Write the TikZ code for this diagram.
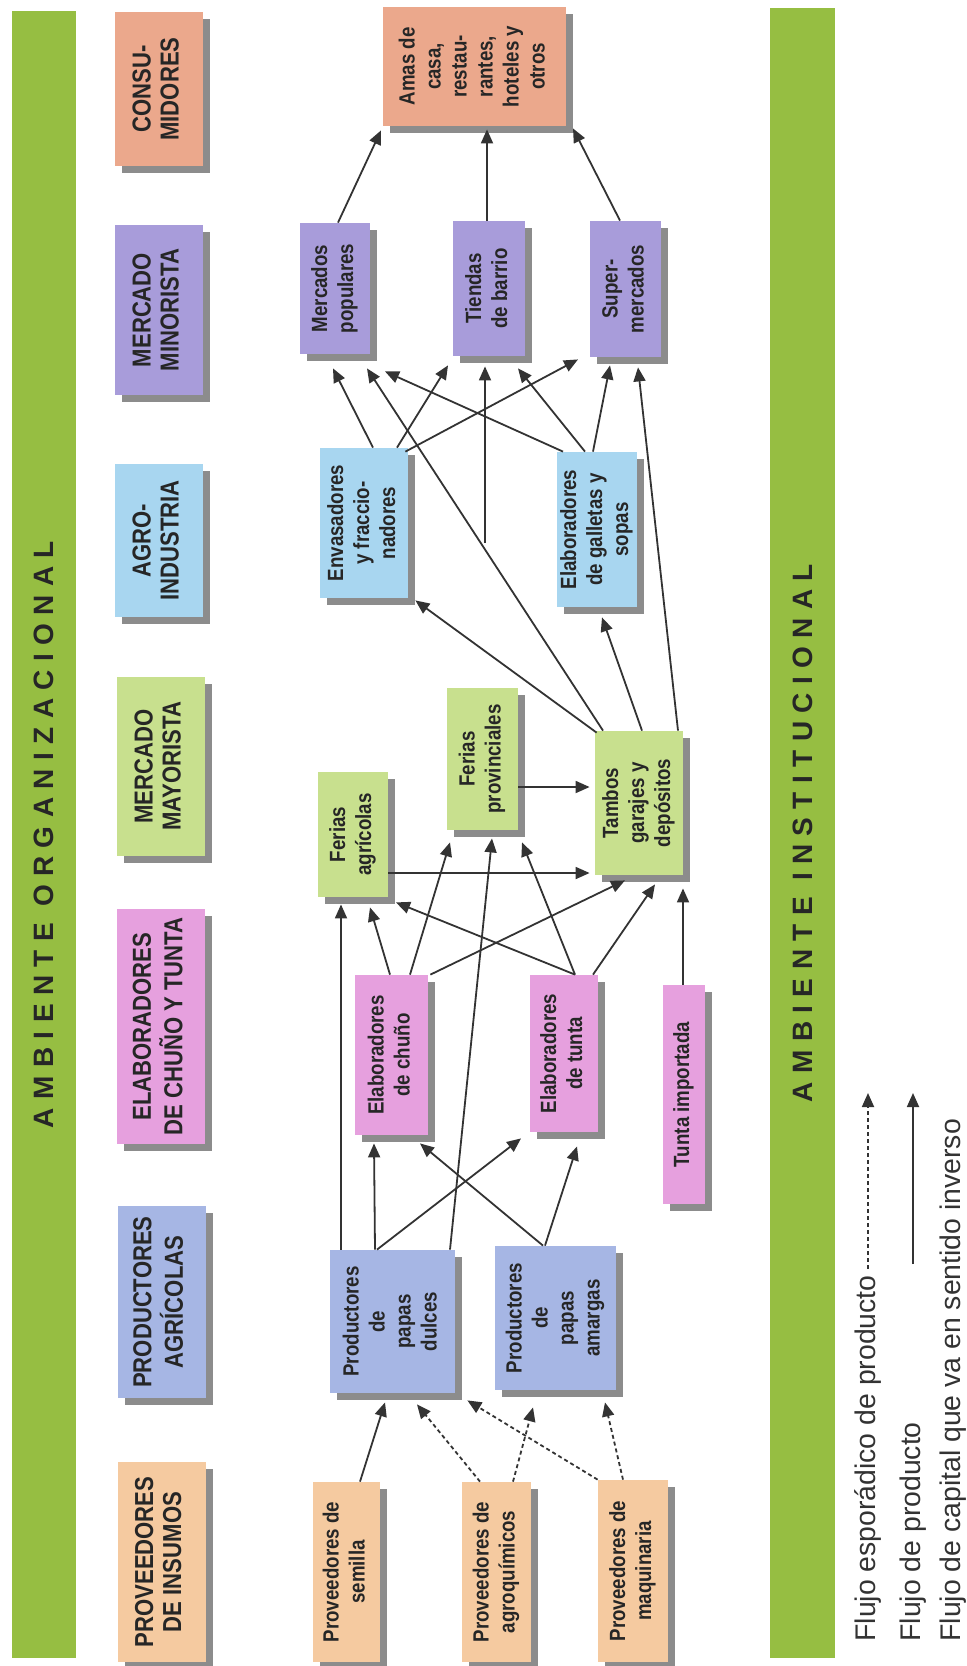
\documentclass[tikz,border=0pt]{standalone}
\usepackage{fontspec}
\setmainfont{Liberation Sans}
\newfontfamily\barfont[LetterSpace=30]{Liberation Sans}
\newfontfamily\narrowfont[FakeStretch=0.85]{Liberation Sans}
\usetikzlibrary{arrows.meta}
\usetikzlibrary{shadows}
\definecolor{barverde}{RGB}{150,190,66}
\definecolor{salmon}{RGB}{235,168,140}
\definecolor{lila}{RGB}{168,156,218}
\definecolor{celeste}{RGB}{168,214,240}
\definecolor{verdecl}{RGB}{200,224,142}
\definecolor{rosa}{RGB}{230,160,222}
\definecolor{azul}{RGB}{166,182,228}
\definecolor{durazno}{RGB}{245,202,160}
\newcommand{\vlab}[1]{\rotatebox{90}{\begin{tabular}{@{}c@{}}#1\end{tabular}}}
\tikzset{
  caja/.style={inner sep=0pt, text=black!85, drop shadow={shadow xshift=3.5pt, shadow yshift=-3.5pt, fill=black!45, opacity=1}},
  cat/.style={caja, minimum width=44pt, font=\narrowfont\fontsize{13}{14}\selectfont\bfseries},
  act/.style={caja, font=\narrowfont\fontsize{11}{13}\selectfont\bfseries},
  barra/.style={fill=barverde, inner sep=0pt, text=black!85, font=\barfont\fontsize{14}{16}\selectfont\bfseries},
  leyenda/.style={inner sep=0pt, text=black!80, font=\fontsize{14.2}{16}\selectfont},
  flujo/.style={draw=black!80, line width=0.9pt, -{Triangle[length=7pt,width=6pt]}},
  espor/.style={flujo, dash pattern=on 2pt off 1.5pt}
}
\begin{document}
\begin{tikzpicture}[x=0.5pt,y=-0.5pt]
				\fill [white] (0,0) rectangle (966,1666);
				\useasboundingbox (0,0) rectangle (966,1666);
				%
				\node (orgbar) [barra, minimum width=32pt, minimum height=823.5pt] at (44,834.5) {\rotatebox{90}{AMBIENTE ORGANIZACIONAL}};
				\node (insbar) [barra, minimum width=32.5pt, minimum height=825pt] at (802.5,833) {\rotatebox{90}{AMBIENTE INSTITUCIONAL}};
				%
				\node (cons) [cat, fill=salmon, minimum height=77pt] at (159,89) {\vlab{CONSU-\\MIDORES}};
				\node (minor) [cat, fill=lila, minimum height=85pt] at (159,310) {\vlab{MERCADO\\MINORISTA}};
				\node (agro) [cat, fill=celeste, minimum height=76.5pt] at (159,540.5) {\vlab{AGRO-\\INDUSTRIA}};
				\node (mayor) [cat, fill=verdecl, minimum height=89.5pt] at (161,766.5) {\vlab{MERCADO\\MAYORISTA}};
				\node (elab) [cat, fill=rosa, minimum height=117.5pt] at (161,1026.5) {\vlab{ELABORADORES\\DE CHUÑO Y TUNTA}};
				\node (prod) [cat, fill=azul, minimum height=96pt] at (161.5,1302) {\vlab{PRODUCTORES\\AGRÍCOLAS}};
				\node (prov) [cat, fill=durazno, minimum height=100pt] at (161.5,1562) {\vlab{PROVEEDORES\\DE INSUMOS}};
				%
				\node (amas) [act, fill=salmon, minimum width=91.5pt, minimum height=59.5pt] at (474.5,66.5) {\vlab{Amas de\\casa,\\restau-\\rantes,\\hoteles y\\otros}};
				\node (mp) [act, fill=lila, minimum width=35pt, minimum height=65.5pt] at (335,288.5) {\vlab{Mercados\\populares}};
				\node (tiendas) [act, fill=lila, minimum width=36pt, minimum height=67.5pt] at (489,288.5) {\vlab{Tiendas\\de barrio}};
				\node (super) [act, fill=lila, minimum width=35.5pt, minimum height=68pt] at (625.5,289) {\vlab{Super-\\mercados}};
				\node (env) [act, fill=celeste, minimum width=44pt, minimum height=75pt] at (364,523) {\vlab{Envasadores\\y fraccio-\\nadores}};
				\node (gall) [act, fill=celeste, minimum width=40pt, minimum height=77.5pt] at (597,529.5) {\vlab{Elaboradores\\de galletas y\\sopas}};
				\node (fagr) [act, fill=verdecl, minimum width=35pt, minimum height=62.5pt] at (353,834.5) {\vlab{Ferias\\agrícolas}};
				\node (fprov) [act, fill=verdecl, minimum width=35.5pt, minimum height=71pt] at (482.5,759) {\vlab{Ferias\\provinciales}};
				\node (tambos) [act, fill=verdecl, minimum width=44pt, minimum height=72pt] at (639,803) {\vlab{Tambos\\garajes y\\depósitos}};
				\node (chuno) [act, fill=rosa, minimum width=36.5pt, minimum height=80pt] at (391.5,1055) {\vlab{Elaboradores\\de chuño}};
				\node (tunta) [act, fill=rosa, minimum width=34pt, minimum height=78.5pt] at (564,1053.5) {\vlab{Elaboradores\\de tunta}};
				\node (timp) [act, fill=rosa, minimum width=21pt, minimum height=109.5pt] at (684,1094.5) {\vlab{Tunta importada}};
				\node (dulces) [act, fill=azul, minimum width=62.5pt, minimum height=71.5pt] at (392.5,1321.5) {\vlab{Productores\\de\\papas\\dulces}};
				\node (amargas) [act, fill=azul, minimum width=60.5pt, minimum height=72pt] at (555.5,1318) {\vlab{Productores\\de\\papas\\amargas}};
				\node (semilla) [act, fill=durazno, minimum width=33.5pt, minimum height=90pt] at (346.5,1572) {\vlab{Proveedores de\\semilla}};
				\node (agroq) [act, fill=durazno, minimum width=34.5pt, minimum height=90pt] at (496.5,1572) {\vlab{Proveedores de\\agroquímicos}};
				\node (maq) [act, fill=durazno, minimum width=35pt, minimum height=91pt] at (633,1571) {\vlab{Proveedores de\\maquinaria}};
				\coordinate (suelto) at (485,543);
				%
				\draw [flujo] ([xshift=1.5pt]mp.north) -- ([xshift=-46.75pt,yshift=-2pt]amas.south);
				\draw [flujo] ([xshift=-1pt]tiendas.north) -- ([xshift=6.25pt,yshift=-1.5pt]amas.south);
				\draw [flujo] ([xshift=-2.75pt]super.north) -- ([xshift=49.25pt,yshift=-1pt]amas.south);
				%
				\draw [flujo] ([xshift=4.5pt]env.north) -- ([xshift=-1pt,yshift=-7pt]mp.south);
				\draw [flujo] ([xshift=-18pt]tambos.north) -- ([xshift=16pt,yshift=-7pt]mp.south);
				\draw [flujo] ([xshift=-17pt]gall.north) -- ([xshift=25pt,yshift=-8.5pt]mp.south);
				\draw [flujo] ([xshift=16.5pt]env.north) -- ([xshift=-20.5pt,yshift=-4.5pt]tiendas.south);
				\draw [flujo] (suelto) -- ([xshift=-2pt,yshift=-5pt]tiendas.south);
				\draw [flujo] ([xshift=-6pt]gall.north) -- ([xshift=14.5pt,yshift=-6pt]tiendas.south);
				\draw [flujo] ([xshift=-1.5pt,yshift=-2pt]env.north east) -- ([xshift=-23.75pt,yshift=-1pt]super.south);
				\draw [flujo] ([xshift=-2pt]gall.north) -- ([xshift=-7.75pt,yshift=-4pt]super.south);
				\draw [flujo] ([xshift=19.5pt]tambos.north) -- ([xshift=6.25pt,yshift=-5pt]super.south);
				%
				\draw [flujo] ([xshift=1pt,yshift=-1pt]tambos.north west) -- ([xshift=3.5pt,yshift=-1pt]env.south east);
				\draw [flujo] ([xshift=1.5pt]tambos.north) -- ([xshift=2.5pt,yshift=-5pt]gall.south);
				\draw [flujo] ([yshift=-14pt]fprov.east) -- ([xshift=-2.5pt,yshift=8pt]tambos.west);
				\draw [flujo] ([yshift=-19.25pt]fagr.east) -- ([xshift=-2.5pt,yshift=-35pt]tambos.west);
				%
				\draw [flujo] ([xshift=1pt]chuno.north east) -- ([xshift=-7pt,yshift=-2.5pt]tambos.south);
				\draw [flujo] ([xshift=14.5pt]tunta.north) -- ([xshift=8pt,yshift=-4.5pt]tambos.south);
				\draw [flujo] ([xshift=-0.5pt]timp.north) -- ([xshift=22pt,yshift=-6.5pt]tambos.south);
				\draw [flujo] ([xshift=-25.75pt]dulces.north) -- ([xshift=-6pt,yshift=-3.5pt]fagr.south);
				\draw [flujo] ([xshift=-0.75pt]chuno.north) -- ([xshift=8.5pt,yshift=-5pt]fagr.south);
				\draw [flujo] ([xshift=5.5pt]tunta.north) -- ([xshift=21.5pt,yshift=-2.5pt]fagr.south);
				\draw [flujo] ([xshift=9.25pt]chuno.north) -- ([xshift=-16.25pt,yshift=-6pt]fprov.south);
				\draw [flujo] ([xshift=28.75pt]dulces.north) -- ([xshift=4.75pt,yshift=-4pt]fprov.south);
				\draw [flujo] ([xshift=5.5pt]tunta.north) -- ([xshift=19.75pt,yshift=-6pt]fprov.south);
				%
				\draw [flujo] ([xshift=-8.75pt]dulces.north) -- ([xshift=-8.75pt,yshift=-4pt]chuno.south);
				\draw [flujo] ([xshift=-6.25pt]amargas.north) -- ([xshift=14.25pt,yshift=-4pt]chuno.south);
				\draw [flujo] ([xshift=-7.75pt]dulces.north) -- ([xshift=-21.5pt,yshift=-3pt]tunta.south);
				\draw [flujo] ([xshift=-5.25pt]amargas.north) -- ([xshift=6.5pt,yshift=-7pt]tunta.south);
				%
				\draw [flujo] ([xshift=6.75pt]semilla.north) -- ([xshift=-3.75pt,yshift=-4.5pt]dulces.south);
				\draw [espor] ([xshift=-8.25pt]agroq.north) -- ([xshift=12.25pt,yshift=-5.5pt]dulces.south);
				\draw [espor] (maq.north west) -- ([xshift=6pt,yshift=-3.5pt]dulces.south east);
				\draw [espor] ([xshift=8.25pt]agroq.north) -- ([xshift=-11.25pt,yshift=-8.5pt]amargas.south);
				\draw [espor] ([xshift=-5pt]maq.north) -- ([xshift=24.75pt,yshift=-6pt]amargas.south);
				%
				\node (lg1) [leyenda, anchor=south] at (868,1642) {\rotatebox{90}{Flujo esporádico de producto}};
				\node (lg2) [leyenda, anchor=south] at (913,1642) {\rotatebox{90}{Flujo de producto}};
				\node (lg3) [leyenda, anchor=south] at (953,1642) {\rotatebox{90}{Flujo de capital que va en sentido inverso}};
				\coordinate (lgp1) at (868,1093);
				\coordinate (lgs2) at (913,1264);
				\coordinate (lgp2) at (913,1093);
				\draw [espor] ([yshift=3pt]lg1.north) -- (lgp1);
				\draw [flujo] (lgs2) -- (lgp2);
			\end{tikzpicture}
\end{document}
